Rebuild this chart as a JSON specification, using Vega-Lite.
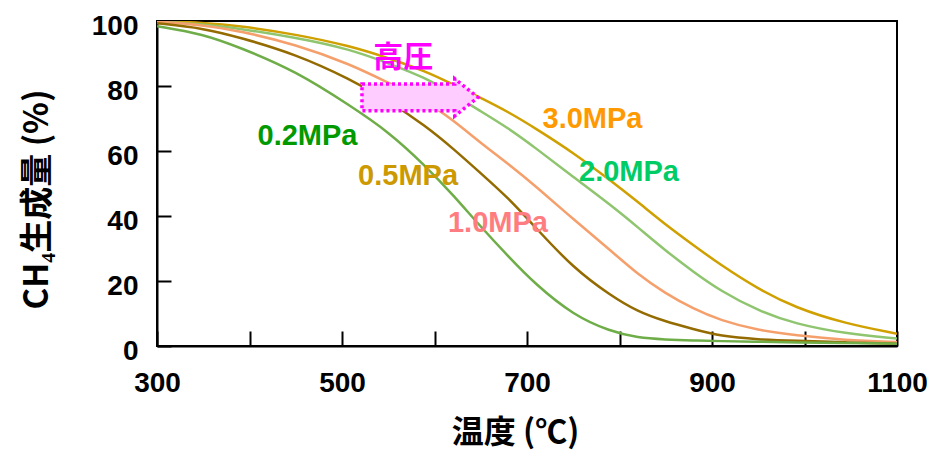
{
  "$schema": "https://vega.github.io/schema/vega-lite/v6.json",
  "width": 740,
  "height": 325,
  "autosize": "none",
  "padding": {"left": 157, "top": 21, "right": 39, "bottom": 106},
  "background": "white",
  "config": {
    "view": {"stroke": "black", "strokeWidth": 2},
    "axis": {"grid": false, "domainColor": "black", "domainWidth": 2, "tickColor": "black", "tickWidth": 2,
      "labelFont": "Liberation Sans", "labelFontWeight": "bold", "labelFontSize": 28, "labelColor": "black",
      "titleFont": "Noto Sans CJK JP", "titleFontWeight": "bold", "titleFontSize": 32, "titleColor": "black"}
  },
  "datasets": {
    "curves": [
      {"p":"3.0MPa","T":300,"v":100},{"p":"3.0MPa","T":350,"v":99.5},{"p":"3.0MPa","T":390,"v":98.5},{"p":"3.0MPa","T":450,"v":95.9},{"p":"3.0MPa","T":509,"v":92.3},{"p":"3.0MPa","T":550,"v":88.6},{"p":"3.0MPa","T":590,"v":84.6},{"p":"3.0MPa","T":620,"v":80.5},{"p":"3.0MPa","T":649,"v":76.5},{"p":"3.0MPa","T":680,"v":72},{"p":"3.0MPa","T":709,"v":67},{"p":"3.0MPa","T":750,"v":59.5},{"p":"3.0MPa","T":790,"v":51},{"p":"3.0MPa","T":820,"v":44.3},{"p":"3.0MPa","T":849,"v":37.5},{"p":"3.0MPa","T":880,"v":31},{"p":"3.0MPa","T":909,"v":25},{"p":"3.0MPa","T":950,"v":17.5},{"p":"3.0MPa","T":990,"v":11.8},{"p":"3.0MPa","T":1044,"v":6.9},{"p":"3.0MPa","T":1100,"v":3.8},
      {"p":"2.0MPa","T":300,"v":99.8},{"p":"2.0MPa","T":350,"v":99},{"p":"2.0MPa","T":390,"v":97.6},{"p":"2.0MPa","T":450,"v":94.9},{"p":"2.0MPa","T":509,"v":91.3},{"p":"2.0MPa","T":550,"v":87},{"p":"2.0MPa","T":590,"v":82.6},{"p":"2.0MPa","T":620,"v":77.5},{"p":"2.0MPa","T":649,"v":72.4},{"p":"2.0MPa","T":680,"v":67},{"p":"2.0MPa","T":709,"v":61},{"p":"2.0MPa","T":750,"v":52},{"p":"2.0MPa","T":790,"v":43.5},{"p":"2.0MPa","T":820,"v":36.5},{"p":"2.0MPa","T":849,"v":29.5},{"p":"2.0MPa","T":880,"v":22.8},{"p":"2.0MPa","T":909,"v":17},{"p":"2.0MPa","T":950,"v":10.8},{"p":"2.0MPa","T":990,"v":6.8},{"p":"2.0MPa","T":1044,"v":3.8},{"p":"2.0MPa","T":1100,"v":2.3},
      {"p":"1.0MPa","T":300,"v":99.8},{"p":"1.0MPa","T":350,"v":98.8},{"p":"1.0MPa","T":390,"v":96.9},{"p":"1.0MPa","T":450,"v":92.8},{"p":"1.0MPa","T":509,"v":86.7},{"p":"1.0MPa","T":550,"v":81},{"p":"1.0MPa","T":590,"v":75.5},{"p":"1.0MPa","T":620,"v":69.5},{"p":"1.0MPa","T":649,"v":62.7},{"p":"1.0MPa","T":680,"v":56},{"p":"1.0MPa","T":709,"v":49.3},{"p":"1.0MPa","T":750,"v":39},{"p":"1.0MPa","T":790,"v":29.5},{"p":"1.0MPa","T":820,"v":22},{"p":"1.0MPa","T":849,"v":16.3},{"p":"1.0MPa","T":880,"v":11.4},{"p":"1.0MPa","T":909,"v":7.9},{"p":"1.0MPa","T":950,"v":4.8},{"p":"1.0MPa","T":990,"v":3.3},{"p":"1.0MPa","T":1044,"v":1.8},{"p":"1.0MPa","T":1100,"v":1.2},
      {"p":"0.5MPa","T":300,"v":99.3},{"p":"0.5MPa","T":350,"v":97.8},{"p":"0.5MPa","T":390,"v":94.9},{"p":"0.5MPa","T":450,"v":89.8},{"p":"0.5MPa","T":509,"v":82.1},{"p":"0.5MPa","T":550,"v":75.5},{"p":"0.5MPa","T":590,"v":67.8},{"p":"0.5MPa","T":620,"v":60.8},{"p":"0.5MPa","T":649,"v":53.4},{"p":"0.5MPa","T":680,"v":45.5},{"p":"0.5MPa","T":709,"v":36.5},{"p":"0.5MPa","T":750,"v":24},{"p":"0.5MPa","T":790,"v":15.6},{"p":"0.5MPa","T":820,"v":10.5},{"p":"0.5MPa","T":849,"v":7.6},{"p":"0.5MPa","T":880,"v":5.2},{"p":"0.5MPa","T":909,"v":3},{"p":"0.5MPa","T":950,"v":2},{"p":"0.5MPa","T":990,"v":1.6},{"p":"0.5MPa","T":1044,"v":1.1},{"p":"0.5MPa","T":1100,"v":0.7},
      {"p":"0.2MPa","T":300,"v":98.4},{"p":"0.2MPa","T":350,"v":96},{"p":"0.2MPa","T":390,"v":91.8},{"p":"0.2MPa","T":450,"v":84.6},{"p":"0.2MPa","T":509,"v":73.9},{"p":"0.2MPa","T":550,"v":66},{"p":"0.2MPa","T":590,"v":55.5},{"p":"0.2MPa","T":620,"v":46.5},{"p":"0.2MPa","T":649,"v":37},{"p":"0.2MPa","T":680,"v":27.5},{"p":"0.2MPa","T":709,"v":19},{"p":"0.2MPa","T":750,"v":9.5},{"p":"0.2MPa","T":790,"v":4.5},{"p":"0.2MPa","T":820,"v":2.5},{"p":"0.2MPa","T":849,"v":2},{"p":"0.2MPa","T":880,"v":1.7},{"p":"0.2MPa","T":909,"v":1.5},{"p":"0.2MPa","T":950,"v":1.3},{"p":"0.2MPa","T":990,"v":1.1},{"p":"0.2MPa","T":1044,"v":0.9},{"p":"0.2MPa","T":1100,"v":0.7}
    ],
    "labels": [
      {"label":"0.2MPa","T":462.7,"v":64.7},
      {"label":"0.5MPa","T":571.4,"v":52.4},
      {"label":"1.0MPa","T":668.6,"v":37.8},
      {"label":"2.0MPa","T":810.3,"v":53.5},
      {"label":"3.0MPa","T":770.8,"v":69.8}
    ],
    "note": [{"label":"高圧","T":566.3,"v":88.5}],
    "arrow": [{"T":584.3,"v":76.5}]
  },
  "encoding": {
    "x": {"field":"T","type":"quantitative","scale":{"domain":[300,1100],"nice":false,"zero":false},
      "axis":{"values":[300,400,500,600,700,800,900,1000,1100],"labelExpr":"datum.value % 200 == 100 ? format(datum.value, 'd') : ''","tickSize":-15,"labelPadding":38,"labelFlush":false,"labelOverlap":false,"title":"温度 (℃)","titleX":358,"titleY":86,"titleBaseline":"middle","titleAlign":"center"}},
    "y": {"field":"v","type":"quantitative","scale":{"domain":[0,100],"nice":false},
      "axis":{"values":[0,20,40,60,80,100],"tickSize":-14,"labelPadding":33,"labelOffset":5,"labelFlush":false,"labelOverlap":false,"title":"CH₄生成量 (%)","titleX":-120,"titleY":178,"titleAngle":-90,"titleBaseline":"middle","titleAlign":"center","titleFontSize":33}}
  },
  "layer": [
    {"data":{"name":"curves"},"mark":{"type":"line","interpolate":"basis","strokeWidth":2.5,"clip":true},
      "encoding":{"color":{"field":"p","type":"nominal","legend":null,
        "scale":{"domain":["0.2MPa","0.5MPa","1.0MPa","2.0MPa","3.0MPa"],"range":["#6EAD48","#946B00","#F5A06C","#8EC56E","#CFA000"]}}}},
    {"data":{"name":"arrow"},"mark":{"type":"point","shape":"M-1,-0.23 L0.6,-0.23 L0.6,-0.32 L1,0 L0.6,0.32 L0.6,0.23 L-1,0.23 Z","size":13456,"filled":true,"fill":"#FFCCFF","stroke":"#FF00FF","strokeWidth":3.5,"strokeDash":[3,3],"opacity":1,"fillOpacity":1,"strokeOpacity":1}},
    {"data":{"name":"labels"},"mark":{"type":"text","font":"Liberation Sans","fontWeight":"bold","fontSize":29,"align":"center","baseline":"middle"},
      "encoding":{"text":{"field":"label"},"color":{"field":"label","type":"nominal","legend":null,
        "scale":{"domain":["0.2MPa","0.5MPa","1.0MPa","2.0MPa","3.0MPa"],"range":["#009900","#CC9900","#FF7C80","#00CC66","#FF9900"]}}}},
    {"data":{"name":"note"},"mark":{"type":"text","font":"Noto Sans CJK JP","fontWeight":"bold","fontSize":30,"align":"center","baseline":"middle","color":"#FF00FF"},
      "encoding":{"text":{"field":"label"}}}
  ],
  "resolve":{"scale":{"color":"independent"}}
}
